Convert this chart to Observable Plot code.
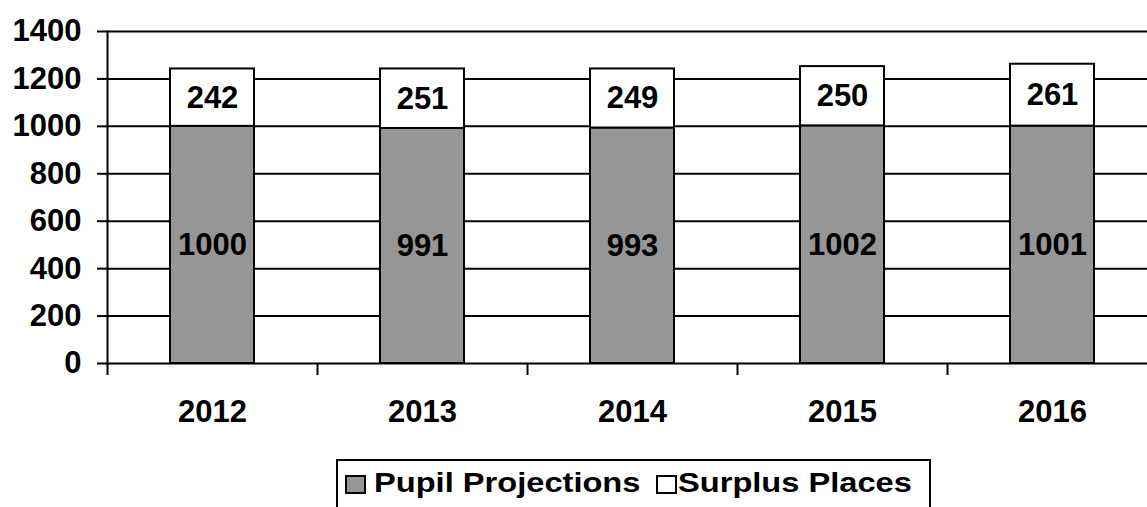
<!DOCTYPE html>
<html>
<head>
<meta charset="utf-8">
<script src="https://cdn.jsdelivr.net/npm/d3@7"></script>
<script src="https://cdn.jsdelivr.net/npm/@observablehq/plot@0.6"></script>
<style>
  html, body { margin: 0; padding: 0; background: #fff; overflow: hidden; }
  body { width: 1147px; height: 507px; position: relative; font-family: "Liberation Sans", Arial, sans-serif; }
  #legend {
    position: absolute; left: 336px; top: 459px;
    border: 2px solid #000;
    box-sizing: border-box; width: 595px; height: 70px;
  }
  .sw { position: absolute; top: 14px; width: 17px; height: 15px; border: 2px solid #000; }
  .lab { position: absolute; top: 8px; font-weight: bold; font-size: 28px; line-height: 28px; color: #000;
         white-space: nowrap; transform: scaleX(1.165); transform-origin: left center; }
</style>
</head>
<body>
<div id="chart"></div>
<div id="legend"></div>
<script>
const years = ["2012", "2013", "2014", "2015", "2016"];
const pupilProjections = [1000, 991, 993, 1002, 1001];
const surplusPlaces = [242, 251, 249, 250, 261];
const yTicks = [0, 200, 400, 600, 800, 1000, 1200, 1400];
const seriesNames = ["Pupil Projections", "Surplus Places"];
const seriesColors = ["#969696", "#ffffff"];

const data = years.flatMap((yr, i) => [
  {year: yr, series: seriesNames[0], value: pupilProjections[i]},
  {year: yr, series: seriesNames[1], value: surplusPlaces[i]}
]);

const chart = Plot.plot({
  width: 1147,
  height: 450,
  marginLeft: 107,
  marginRight: 0,
  marginTop: 31,
  marginBottom: 87,
  style: {fontFamily: "'Liberation Sans', Arial, sans-serif", fontWeight: "bold", color: "#000", background: "#fff"},
  x: {domain: years, range: [107, 1157], paddingInner: 0.6, paddingOuter: 0.3, axis: null},
  y: {domain: [0, 1400], range: [363, 31], axis: null},
  color: {domain: seriesNames, range: seriesColors},
  marks: [
    Plot.gridY(yTicks, {stroke: "#000", strokeOpacity: 1, strokeWidth: 2}),
    Plot.axisY(yTicks, {tickSize: 10, tickPadding: 16, tickFormat: d => String(d), fontSize: 31, fontWeight: "bold", strokeWidth: 2, label: null}),
    Plot.frame({anchor: "left", strokeWidth: 2, stroke: "#000"}),
    Plot.axisX({tickSize: 12, tickFormat: () => "", dx: -105, strokeWidth: 2, label: null}),
    Plot.axisX({tickSize: 0, tickPadding: 36, fontSize: 31, fontWeight: "bold", label: null}),
    Plot.barY(data, Plot.stackY({x: "year", y: "value", fill: "series", stroke: "#000", strokeWidth: 2})),
    Plot.text(data, Plot.stackY({x: "year", y: "value", text: d => String(d.value), fontSize: 31, fontWeight: "bold", fill: "#000"}))
  ]
});
document.getElementById("chart").appendChild(chart);

const legend = document.getElementById("legend");
const swatchLeft = [7, 318];
const labelLeft = [36, 340];
seriesNames.forEach((name, i) => {
  const sw = document.createElement("div");
  sw.className = "sw";
  sw.style.left = swatchLeft[i] + "px";
  sw.style.background = seriesColors[i];
  const label = document.createElement("div");
  label.className = "lab";
  label.style.left = labelLeft[i] + "px";
  label.textContent = name;
  legend.appendChild(sw);
  legend.appendChild(label);
});
</script>
</body>
</html>
